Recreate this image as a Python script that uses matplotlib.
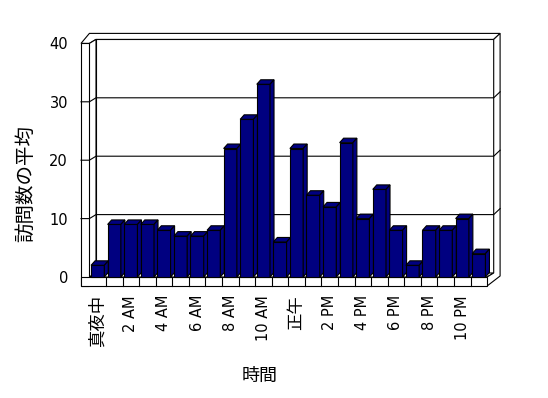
import matplotlib
matplotlib.use('Agg')
import matplotlib.pyplot as plt
from matplotlib.patches import Polygon

# average visits per hour
hours = list(range(24))
visits = [2, 9, 9, 9, 8, 7, 7, 8, 22, 27, 33, 6,
          22, 14, 12, 23, 10, 15, 8, 2, 8, 8, 10, 4]
tick_pos = list(range(0, 24, 2))
tick_labels = ['真夜中', '2 AM', '4 AM', '6 AM', '8 AM', '10 AM',
               '正午', '2 PM', '4 PM', '6 PM', '8 PM', '10 PM']
y_ticks = [0, 10, 20, 30, 40]

plt.rcParams['font.family'] = ['DejaVu Sans', 'Noto Sans CJK JP']

W, H = 548, 398
fig = plt.figure(figsize=(W / 100, H / 100), dpi=100)
fig.patch.set_facecolor('white')

# front plane of the 3D box
ax = fig.add_axes([89.4 / W, 121 / H, 397.7 / W, 233.6 / H])
ax.set_xlim(-0.5, 23.5)
ax.set_ylim(0, 40)
ax.patch.set_visible(False)
for s in ax.spines.values():
    s.set_visible(False)

# pixel -> data units
px = 24 / 397.7
py = 40 / 233.6
DXb, DYb = 6.6 * px, 4 * py      # inner back wall offset
DXo, DYo = 13 * px, 10 * py      # outer back wall offset
XL = -0.5 - 8.4 * px             # outer edge of left wall
FB = -9 * py                     # floor slab bottom
bx, by = 4 * px, 4.5 * py        # bar depth
x0, x1 = -0.5, 23.5
top = 40

lw = 0.8


def poly(pts, fc='white', z=1):
    ax.add_patch(Polygon(pts, closed=True, fc=fc, ec='black', lw=lw,
                         clip_on=False, zorder=z, joinstyle='miter'))


def line(xs, ys, z=1.5):
    ax.plot(xs, ys, color='black', lw=lw, clip_on=False, zorder=z)


# back wall
poly([(x0 + DXb, DYb), (x1 + DXb, DYb), (x1 + DXb, top + DYb), (x0 + DXb, top + DYb)])
# top cap of walls
poly([(x0 + DXb, top + DYb), (x1 + DXb, top + DYb), (x1 + DXo, top + DYo),
      (x0, top + DYo), (XL, top), (x0, top)])
# left wall inner face and front face
poly([(x0, 0), (x0, top), (x0 + DXb, top + DYb), (x0 + DXb, DYb)])
poly([(XL, FB), (x0, FB), (x0, top), (XL, top)])
# floor top and right side
poly([(x0, 0), (x1, 0), (x1 + DXb, DYb), (x0 + DXb, DYb)])
poly([(x1, 0), (x1, FB), (x1 + DXo, FB + DYo), (x1 + DXo, top + DYo),
      (x1 + DXb, top + DYb), (x1 + DXb, DYb)])
# floor front face
poly([(XL, FB), (x1, FB), (x1, 0), (XL, 0)])
for k in range(23):
    line([k + 0.5, k + 0.5], [FB, 0], z=2)

# gridlines
for v in y_ticks[1:-1]:
    line([XL, x0, x0 + DXb, x1 + DXb, x1 + DXo], [v, v, v + DYb, v + DYb, v + DYo])

# bars
navy = '#000080'
hw = 0.4
for i, v in zip(hours, visits):
    z = 3 + i * 0.01
    poly([(i - hw, 0), (i + hw, 0), (i + hw, v), (i - hw, v)], fc=navy, z=z)
    poly([(i - hw, v), (i + hw, v), (i + hw + bx, v + by), (i - hw + bx, v + by)], fc=navy, z=z)
    poly([(i + hw, 0), (i + hw, v), (i + hw + bx, v + by), (i + hw + bx, by)], fc=navy, z=z)

ax.set_yticks(y_ticks)
ax.set_yticklabels([str(t) for t in y_ticks], fontsize=10.5)
ax.set_xticks(tick_pos)
ax.set_xticklabels(tick_labels, rotation=90, fontsize=10.5)
for lab in ax.get_xticklabels():
    if not lab.get_text().isascii():
        lab.set_fontsize(12.5)
ax.tick_params(axis='y', length=0, pad=15.4)
ax.tick_params(axis='x', length=0, pad=13)

fig.text(25.5 / W, 1 - 183.5 / H, '訪問数の平均', rotation=90,
         ha='center', va='center', fontsize=14)
fig.text(259.7 / W, 1 - 375.7 / H, '時間', ha='center', va='center', fontsize=13)

fig.savefig('out.png', dpi=100, facecolor='white')
